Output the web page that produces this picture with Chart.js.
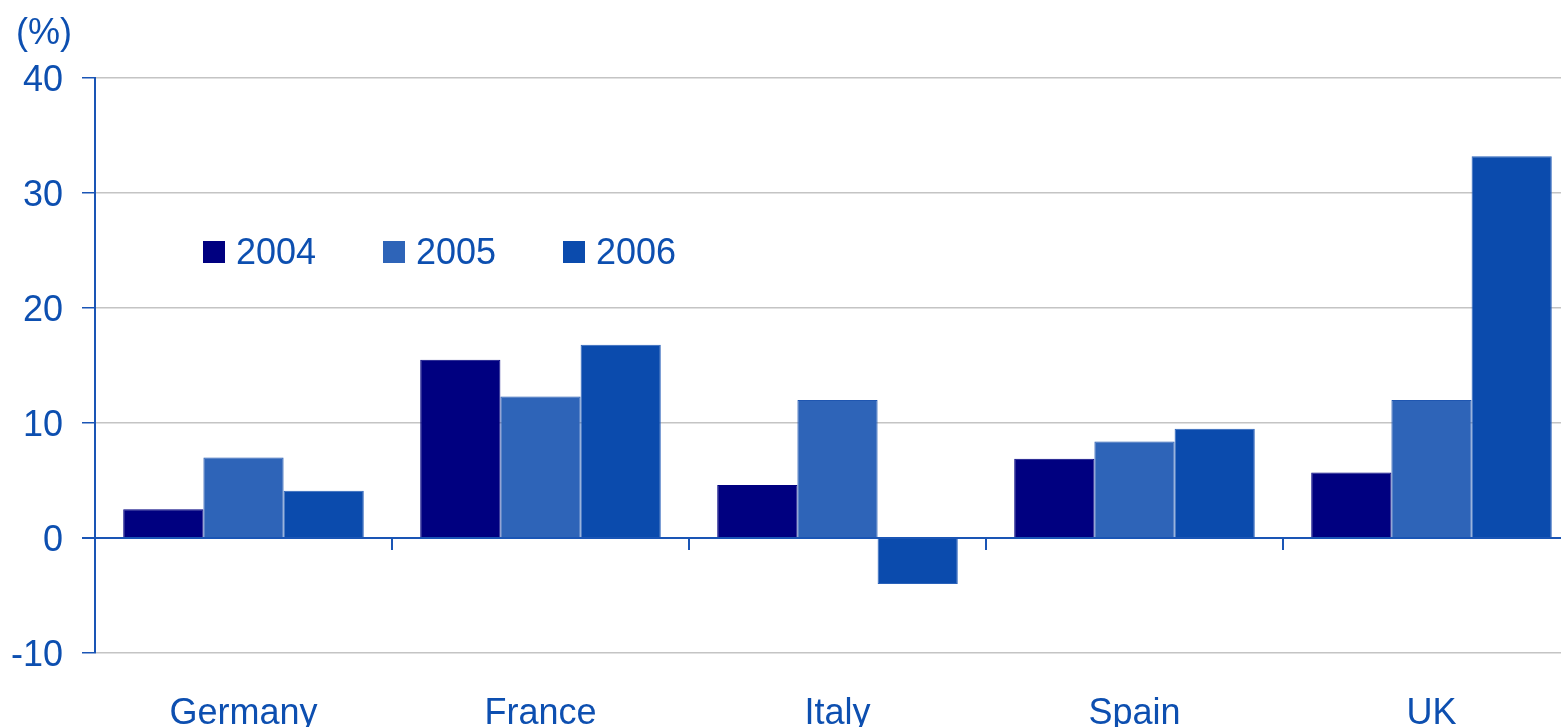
<!DOCTYPE html>
<html>
<head>
<meta charset="utf-8">
<script src="https://cdn.jsdelivr.net/npm/chart.js@4"></script>
<style>
  html, body { margin: 0; padding: 0; background: #fff; overflow: hidden; width: 1561px; height: 727px; }
  canvas { display: block; }
</style>
</head>
<body>
<!-- the plot runs a little past the right edge of the window, as in the source -->
<canvas id="myChart" width="1580" height="727"></canvas>
<script>
// data
var countries = ['Germany', 'France', 'Italy', 'Spain', 'UK'];
var years = ['2004', '2005', '2006'];
var v2004 = [2.5, 15.5, 4.6, 6.9, 5.7];
var v2005 = [7.0, 12.3, 12.0, 8.4, 12.0];
var v2006 = [4.1, 16.8, -4.0, 9.5, 33.2];
var yTicks = [40, 30, 20, 10, 0, -10];

var textBlue = '#0d4fb0';
var axisBlue = '#1a55b5';
var fontFam = '"Liberation Sans", Arial, sans-serif';
var fontSize = 36;

// zero line tick marks between categories + unit label + legend
var extras = {
  id: 'extras',
  afterDraw: function (chart) {
    var ctx = chart.ctx;
    var xs = chart.scales.x, ys = chart.scales.y;
    var y0 = ys.getPixelForValue(0);
    ctx.save();
    ctx.strokeStyle = axisBlue;
    ctx.lineWidth = 2;
    for (var i = 1; i < countries.length; i++) {
      var xb = (xs.getPixelForValue(i - 1) + xs.getPixelForValue(i)) / 2;
      ctx.beginPath();
      ctx.moveTo(xb, y0);
      ctx.lineTo(xb, y0 + 12);
      ctx.stroke();
    }
    ctx.fillStyle = textBlue;
    ctx.font = fontSize + 'px ' + fontFam;
    ctx.textBaseline = 'middle';
    ctx.textAlign = 'left';
    ctx.fillText('(%)', 16, 34);

    // legend
    var ds = chart.data.datasets;
    var lx = 203, ly = 252;
    for (var j = 0; j < ds.length; j++) {
      var bx = lx + j * 180;
      ctx.fillStyle = ds[j].backgroundColor;
      ctx.fillRect(bx, ly - 11, 22, 22);
      ctx.fillStyle = textBlue;
      ctx.fillText(ds[j].label, bx + 33, ly + 2);
    }
    ctx.restore();
  }
};

var ctx = document.getElementById('myChart').getContext('2d');
var chart = new Chart(ctx, {
  type: 'bar',
  data: {
    labels: countries,
    datasets: [{
      label: years[0],
      backgroundColor: '#000080',
      borderColor: '#000080',
      borderWidth: 1,
      data: v2004
    }, {
      label: years[1],
      backgroundColor: '#2e64b8',
      borderColor: '#1f56b0',
      borderWidth: 1,
      data: v2005
    }, {
      label: years[2],
      backgroundColor: '#0b4bad',
      borderColor: '#2a62ba',
      borderWidth: 1,
      data: v2006
    }]
  },
  options: {
    responsive: false,
    animation: false,
    devicePixelRatio: 1,
    layout: { padding: { top: 78, right: 0, left: 0, bottom: 0 } },
    plugins: { legend: { display: false }, tooltip: { enabled: false } },
    datasets: { bar: { categoryPercentage: 0.81, barPercentage: 1.0 } },
    scales: {
      x: {
        grid: { display: false },
        border: { display: false },
        ticks: {
          color: textBlue,
          font: { family: fontFam, size: fontSize },
          padding: 31
        },
        afterFit: function (s) { s.height = 74; }
      },
      y: {
        min: -10,
        max: 40,
        afterBuildTicks: function (s) {
          s.ticks = yTicks.map(function (v) { return { value: v }; });
        },
        grid: {
          color: function (c) { return c.tick && c.tick.value === 0 ? axisBlue : '#c4c4c4'; },
          lineWidth: function (c) { return c.tick && c.tick.value === 0 ? 2 : 1.5; },
          tickColor: axisBlue,
          tickLength: 13,
          drawTicks: true
        },
        border: { display: true, color: axisBlue, width: 2 },
        ticks: {
          color: textBlue,
          font: { family: fontFam, size: fontSize },
          padding: 19,
          labelOffset: 3
        },
        afterFit: function (s) { s.width = 95; }
      }
    }
  },
  plugins: [extras]
});
</script>
</body>
</html>
